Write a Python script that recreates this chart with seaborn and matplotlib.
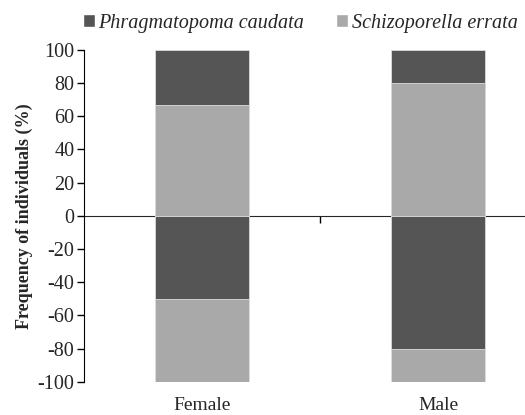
import pandas as pd
import matplotlib.pyplot as plt
import seaborn as sns
from matplotlib.patches import Patch

categories = ["Female", "Male"]
# upper half (positive)
phrag_pos = [33.3, 20.0]
schizo_pos = [66.7, 80.0]
# lower half (negative)
phrag_neg = [50.0, 80.0]
schizo_neg = [50.0, 20.0]

species = ["Phragmatopoma caudata", "Schizoporella errata"]
dark = "#555555"
light = "#a9a9a9"

if __name__ == '__main__':
    sns.set_style("ticks")
    plt.rcParams["font.family"] = ["Liberation Serif", "DejaVu Serif"]
    plt.rcParams["font.size"] = 13
    plt.rcParams["axes.unicode_minus"] = False

    df = pd.DataFrame({"sex": categories,
                       "phrag_pos": phrag_pos, "schizo_pos": schizo_pos,
                       "phrag_neg": phrag_neg, "schizo_neg": schizo_neg})
    df["top_total"] = df.phrag_pos + df.schizo_pos
    df["bot_total"] = -(df.phrag_neg + df.schizo_neg)
    df["bot_first"] = -df.phrag_neg

    fig, ax = plt.subplots(figsize=(5.25, 4.15), dpi=100)
    fig.subplots_adjust(left=0.16, right=1.059, top=0.88, bottom=0.08)

    kw = dict(width=0.4, edgecolor="#dddddd", linewidth=0.6, ax=ax)
    # stacked by overdrawing: totals first, then inner segment
    sns.barplot(data=df, x="sex", y="top_total", color=dark, **kw)
    sns.barplot(data=df, x="sex", y="schizo_pos", color=light, **kw)
    sns.barplot(data=df, x="sex", y="bot_total", color=light, **kw)
    sns.barplot(data=df, x="sex", y="bot_first", color=dark, **kw)
    for p in ax.patches:
        p.set_alpha(1)

    ax.set_xlim(-0.5, 1.5)
    ax.set_ylim(-100, 100)
    ax.set_yticks(range(-100, 101, 20))
    ax.tick_params(axis="y", length=5, width=1, color="black", labelsize=14.5, pad=2)
    ax.tick_params(axis="x", length=0, labelsize=14, pad=11)
    ax.set_xlabel("")
    ax.set_ylabel("Frequency of individuals (%)", fontweight="bold", fontsize=13, labelpad=3)
    for s in ["top", "right", "bottom"]:
        ax.spines[s].set_visible(False)
    ax.spines["left"].set_color("black")

    # zero line with the category divider tick
    sec = ax.secondary_xaxis(0.5)
    sec.set_xticks([0.5])
    sec.set_xticklabels([""])
    sec.tick_params(length=5, width=1, color="black", direction="in")
    sec.spines["bottom"].set_color("black")
    sec.spines["bottom"].set_linewidth(1)

    handles = [Patch(facecolor=dark), Patch(facecolor=light)]
    fig.legend(handles, species, loc="upper center", bbox_to_anchor=(0.572, 1.01),
               ncol=2, frameon=False, prop={"style": "italic", "size": 14.5},
               handlelength=0.6, handleheight=0.6, handletextpad=0.15, columnspacing=1.6)

    fig.savefig("out.png", dpi=100)
